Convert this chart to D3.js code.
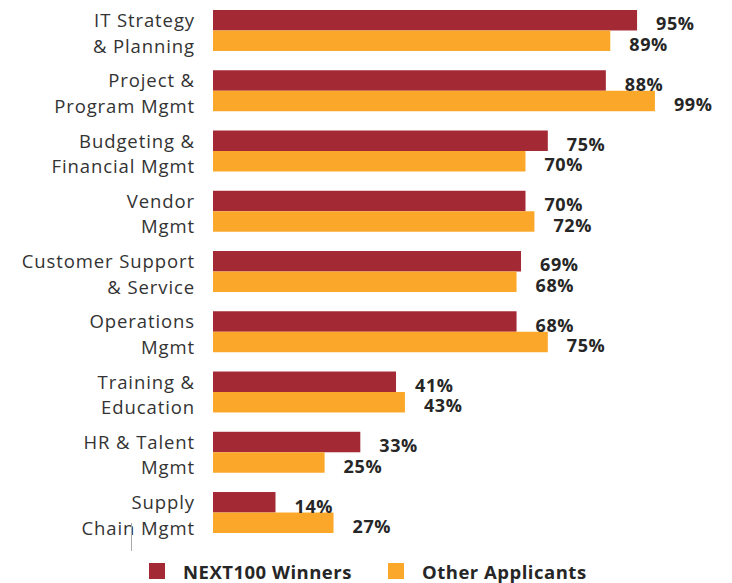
<!DOCTYPE html>
<html>
<head>
<meta charset="utf-8">
<script src="https://cdn.jsdelivr.net/npm/d3@7"></script>
<style>
  html, body { margin: 0; padding: 0; background: #fff; }
  svg { display: block; }
</style>
</head>
<body>
<svg id="chart" width="732" height="583"></svg>
<script>
// categories (two-line labels) and the two series
var categories = ['IT Strategy\n& Planning', 'Project &\nProgram Mgmt', 'Budgeting &\nFinancial Mgmt', 'Vendor\nMgmt',
  'Customer Support\n& Service', 'Operations\nMgmt', 'Training &\nEducation', 'HR & Talent\nMgmt', 'Supply\nChain Mgmt'];
var seriesNames = ['NEXT100 Winners', 'Other Applicants'];
var winners = [95, 88, 75, 70, 69, 68, 41, 33, 14];
var others = [89, 99, 70, 72, 68, 75, 43, 25, 27];
var colors = ['#a32935', '#fba82a'];

var svg = d3.select('#chart');
var FONT = '"Open Sans", Roboto, sans-serif';

var x = d3.scaleLinear().domain([0, 100]).range([213, 659.4]);
var y = d3.scaleBand().domain(categories).range([10, 533]).paddingInner(0.32).paddingOuter(0);
var ySub = d3.scaleBand().domain(seriesNames).range([0, y.bandwidth()]).padding(0);

var rows = categories.map(function (c, i) {
  return { cat: c, vals: [{ s: seriesNames[0], v: winners[i], c: colors[0] }, { s: seriesNames[1], v: others[i], c: colors[1] }] };
});

var g = svg.selectAll('g.row').data(rows).enter().append('g')
  .attr('class', 'row')
  .attr('transform', function (d) { return 'translate(0,' + y(d.cat) + ')'; });

g.selectAll('rect').data(function (d) { return d.vals; }).enter().append('rect')
  .attr('x', x(0))
  .attr('y', function (d) { return ySub(d.s); })
  .attr('width', function (d) { return x(d.v) - x(0); })
  .attr('height', ySub.bandwidth())
  .attr('fill', function (d) { return d.c; });

// value labels, baseline sits at the bar bottom
g.selectAll('text.val').data(function (d) { return d.vals; }).enter().append('text')
  .attr('class', 'val')
  .attr('x', function (d) { return x(d.v) + 19; })
  .attr('y', function (d) { return ySub(d.s) + ySub.bandwidth(); })
  .attr('font-family', FONT).attr('font-size', 18).attr('font-weight', 700)
  .attr('letter-spacing', 0.6)
  .attr('fill', '#262626')
  .text(function (d) { return d.v + '%'; });

// category labels
var lab = g.append('text')
  .attr('text-anchor', 'end')
  .attr('font-family', FONT).attr('font-size', 18.5)
  .attr('letter-spacing', 0.9)
  .attr('fill', '#333');
lab.selectAll('tspan').data(function (d) { return d.cat.split('\n'); }).enter().append('tspan')
  .attr('x', 195)
  .attr('y', function (d, i) { return i === 0 ? 17 : 42.5; })
  .text(function (d) { return d; });

// small stray tick left of the chart
svg.append('line').attr('x1', 131.5).attr('x2', 131.5).attr('y1', 523).attr('y2', 551)
  .attr('stroke', '#aaa').attr('stroke-width', 1);

// legend
var legX = [149, 388];
var lg = svg.selectAll('g.leg').data(seriesNames).enter().append('g')
  .attr('class', 'leg')
  .attr('transform', function (d, i) { return 'translate(' + legX[i] + ',563)'; });
lg.append('rect').attr('width', 16).attr('height', 16).attr('fill', function (d, i) { return colors[i]; });
lg.append('text').attr('x', 34).attr('y', 16)
  .attr('font-family', FONT).attr('font-size', 18.5).attr('font-weight', 700)
  .attr('letter-spacing', 0.5)
  .attr('fill', '#262626')
  .text(function (d) { return d; });
</script>
</body>
</html>
